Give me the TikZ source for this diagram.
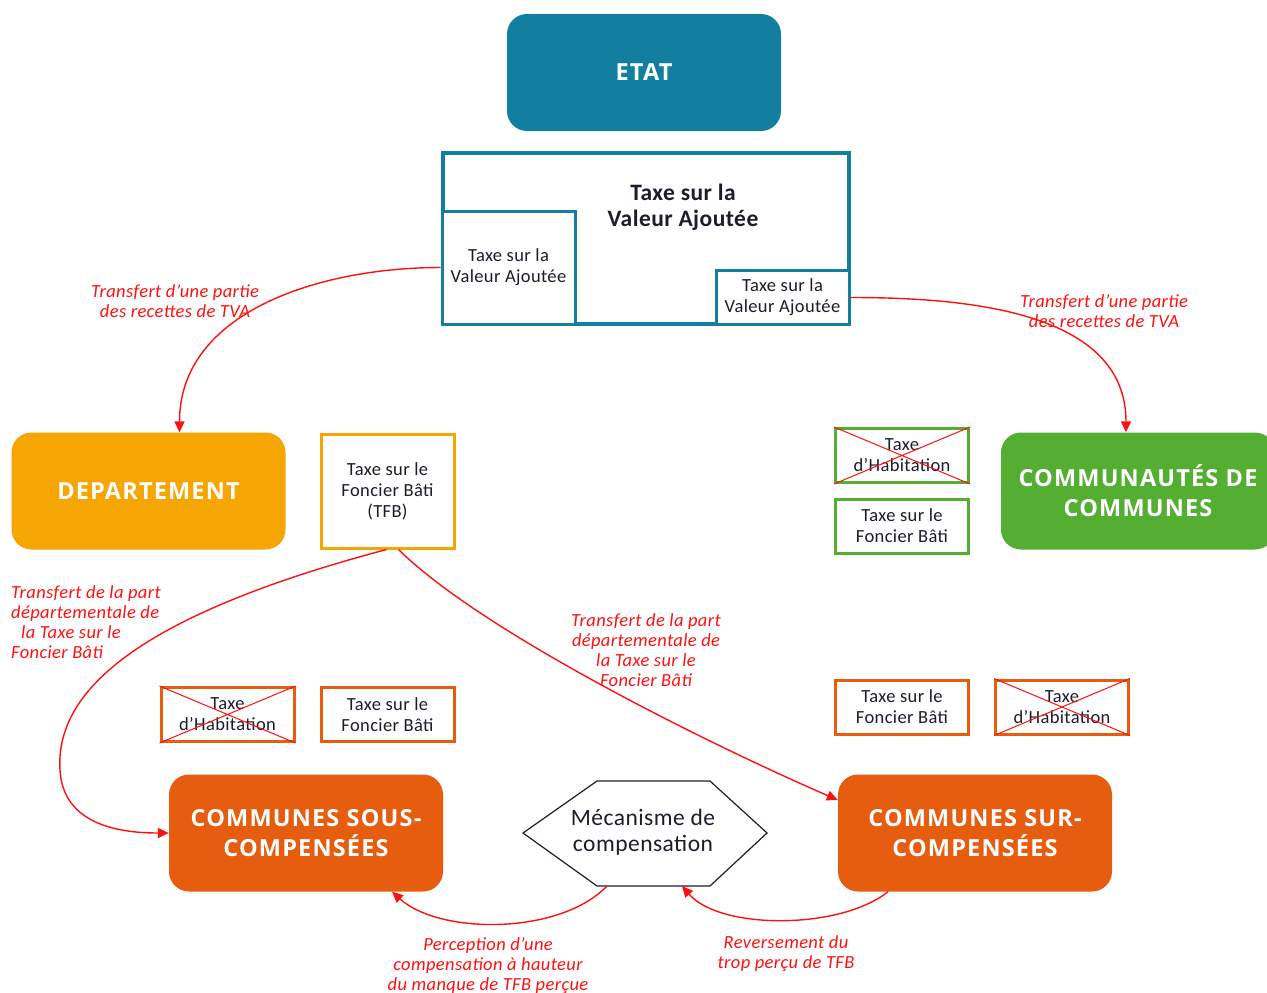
\documentclass[tikz,border=0pt]{standalone}
\usepackage{fontspec}
\setmainfont{Carlito}[LetterSpace=2]
\newfontfamily\titre{Open Sans}[LetterSpace=5]
\usetikzlibrary{arrows.meta}
\definecolor{bleu}{HTML}{137FA0}
\definecolor{jaune}{HTML}{F5A603}
\definecolor{vert}{HTML}{53AE32}
\definecolor{orange}{HTML}{E65D10}
\definecolor{rouge}{HTML}{FF1010}
\definecolor{encre}{HTML}{1C1C2C}
\tikzset{
  bloc/.style={rounded corners=20pt, minimum width=274pt, minimum height=117pt,
    text=white, align=center, font=\titre\bfseries\fontsize{23.5}{30}\selectfont},
  taxe/.style={draw, line width=3pt, fill=white, minimum width=133pt,
    minimum height=54pt, align=center, inner sep=0pt, text=encre,
    font=\fontsize{18.5}{21}\selectfont},
  croix/.style={draw=rouge, line width=1pt},
  fleche/.style={rouge, line width=1.4pt, -{Triangle[length=11pt,width=10pt]}},
  legende/.style={text=rouge, align=center, font=\itshape\fontsize{18.5}{20}\selectfont},
}
\begin{document}
\begin{tikzpicture}[x=1pt,y=-1pt]
  \useasboundingbox (0,0) rectangle (1267,993);
  % Etat et TVA
  \node[bloc, fill=bleu] (etat) at (644,72.5) {ETAT};
  \node[draw=bleu, line width=3.5pt, minimum width=406pt, minimum height=171pt] (tva) at (646,238.5) {};
  \node[align=center, text=encre, font=\bfseries\fontsize{23.5}{26}\selectfont] (tvaTxt) at (683,207) {Taxe sur la\\Valeur Ajoutée};
  \node[taxe, draw=bleu, minimum height=113pt] (tvaDep) at (508.5,267.5) {Taxe sur la\\Valeur Ajoutée};
  \node[taxe, draw=bleu] (tvaCC) at (782.5,297.5) {Taxe sur la\\Valeur Ajoutée};

  % departement et communautes
  \node[bloc, fill=jaune] (dep) at (148.5,491) {DEPARTEMENT};
  \node[taxe, draw=jaune, minimum height=114pt] (tfb) at (387.5,491) {Taxe sur le\\Foncier Bâti\\(TFB)};
  \node[bloc, fill=vert] (cc) at (1138,491) {COMMUNAUTÉS DE\\COMMUNES};
  \node[taxe, draw=vert] (thCC) at (902,455.5) {Taxe\\d’Habitation};
  \node[taxe, draw=vert] (tfbCC) at (902,526) {Taxe sur le\\Foncier Bâti};

  % communes
  \node[taxe, draw=orange] (thS) at (227.5,714.5) {Taxe\\d’Habitation};
  \node[taxe, draw=orange] (tfbS) at (387.5,714.5) {Taxe sur le\\Foncier Bâti};
  \node[taxe, draw=orange] (tfbR) at (902,707) {Taxe sur le\\Foncier Bâti};
  \node[taxe, draw=orange] (thR) at (1062,707) {Taxe\\d’Habitation};
  \foreach \n in {thCC,thS,thR}
    \draw[croix] (\n.north west) -- (\n.south east) (\n.south west) -- (\n.north east);
  \node[bloc, fill=orange] (sous) at (306,833) {COMMUNES SOUS-\\COMPENSÉES};
  \node[bloc, fill=orange] (sur) at (975,833) {COMMUNES SUR-\\COMPENSÉES};

  % mecanisme
  \coordinate (hexO) at (523,833);
  \coordinate (hexNO) at (597,781);
  \coordinate (hexNE) at (710,781);
  \coordinate (hexE) at (767,833);
  \coordinate (hexSE) at (710,886);
  \coordinate (hexSO) at (597,886);
  \draw[line width=1.2pt, encre] (hexO) -- (hexNO) -- (hexNE) -- (hexE) -- (hexSE) -- (hexSO) -- cycle;
  \node[align=center, text=encre, font=\fontsize{23.5}{26}\selectfont] (meca) at (643,832) {Mécanisme de\\compensation};
  \coordinate (mecaDep) at (607,886);
  \coordinate (mecaArr) at (682,886);

  % fleches
  \draw[fleche] (tvaDep.west) to[out=180,in=90] ([xshift=31pt]dep.north);
  \draw[fleche] (tvaCC.east) to[out=0,in=90] ([xshift=-12pt]cc.north);
  \draw[fleche] ([xshift=-1pt]tfb.south) .. controls (140,615) and (55,690) .. (60,770)
    .. controls (63,825) and (120,833) .. (sous.west);
  \draw[fleche] ([xshift=11pt]tfb.south) .. controls (480,630) and (700,740) .. ([yshift=33pt]sur.west);
  \draw[fleche] (mecaDep) .. controls (560,935) and (440,935) .. ([xshift=86pt]sous.south);
  \draw[fleche] ([xshift=-87pt]sur.south) .. controls (840,930) and (720,930) .. (mecaArr);

  % legendes
  \node[legende] (lTvaDep) at (175,301) {Transfert d’une partie\\des recettes de TVA};
  \node[legende] (lTvaCC) at (1104,311) {Transfert d’une partie\\des recettes de TVA};
  \node[legende, align=left, anchor=north west, inner sep=0pt] (lTfbS) at (11,585) {Transfert de la part\\départementale de\\\hspace{10pt}la Taxe sur le\\Foncier Bâti};
  \node[legende] (lTfbR) at (646,650) {Transfert de la part\\départementale de\\la Taxe sur le\\Foncier Bâti};
  \node[legende] (lComp) at (488,966) {Perception d’une\\compensation à hauteur\\du manque de TFB perçue};
  \node[legende] (lRev) at (786,954) {Reversement du\\trop perçu de TFB};
\end{tikzpicture}
\end{document}
